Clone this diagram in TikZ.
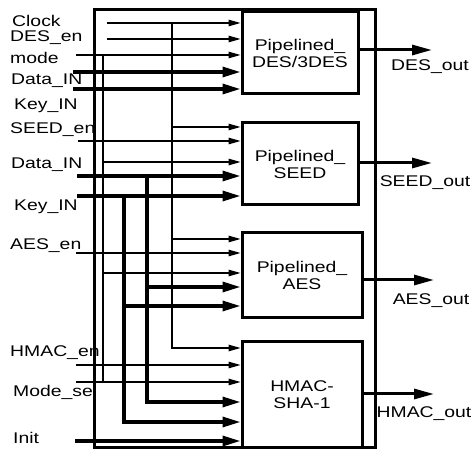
\documentclass[tikz,border=0pt]{standalone}
\usepackage{fontspec}
\usepackage{graphicx}
\setmainfont{Liberation Sans}
\usetikzlibrary{arrows.meta}
\newcommand{\sx}[1]{\scalebox{1.25}[1]{#1}}
\begin{document}
\begin{tikzpicture}[x=1pt,y=-1pt,
  thinl/.style={line width=1.2pt},
  thickl/.style={line width=3.2pt},
  ta/.style={thinl,-{Triangle[length=12pt,width=6.5pt]}},
  ka/.style={thickl,-{Triangle[length=18pt,width=10pt]}},
  oa/.style={line width=3pt,-{Triangle[length=20pt,width=10pt]}},
  lbl/.style={font=\fontsize{15.5}{17}\selectfont, inner sep=0pt, anchor=west},
  olbl/.style={font=\fontsize{15.5}{17}\selectfont, inner sep=0pt},
  blk/.style={draw, line width=3pt, inner sep=0pt, align=center,
              font=\fontsize{15.5}{17}\selectfont}]
\useasboundingbox (0,0) rectangle (472,449);

% outer frame
\draw[line width=3pt] (94,10) rectangle (375,448);

% blocks
\node[blk, minimum width=116pt, minimum height=82pt] (des) at (300,53) {\sx{Pipelined\_}\\\sx{DES/3DES}};
\node[blk, minimum width=116pt, minimum height=82pt] (seed) at (300,164) {\sx{Pipelined\_}\\\sx{SEED}};
\node[blk, minimum width=120pt, minimum height=85pt] (aes) at (302,275.5) {\sx{Pipelined\_}\\\sx{AES}};
\node[blk, minimum width=120pt, minimum height=106pt] (hmac) at (302,395) {\sx{HMAC-}\\\sx{SHA-1}};

% input labels
\node[lbl] (lclk) at (12,21) {\sx{Clock}};
\node[lbl] (ldesen) at (10,38) {\sx{DES\_en}};
\node[lbl] (lmode) at (10,58) {\sx{mode}};
\node[lbl] (ldata1) at (11,81) {\sx{Data\_IN}};
\node[lbl] (lkey1) at (14,106) {\sx{Key\_IN}};
\node[lbl] (lseeden) at (10,130) {\sx{SEED\_en}};
\node[lbl] (ldata2) at (11,165) {\sx{Data\_IN}};
\node[lbl] (lkey2) at (14,207) {\sx{Key\_IN}};
\node[lbl] (laesen) at (10,246) {\sx{AES\_en}};
\node[lbl] (lhmacen) at (10,353) {\sx{HMAC\_en}};
\node[lbl] (lmodesel) at (13,392) {\sx{Mode\_sel}};
\node[lbl] (linit) at (13,438) {\sx{Init}};

% output labels
\node[olbl] (ldesout) at (430,67) {\sx{DES\_out}};
\node[olbl] (lseedout) at (425,183) {\sx{SEED\_out}};
\node[olbl] (laesout) at (431,301) {\sx{AES\_out}};
\node[olbl] (lhmacout) at (424,414) {\sx{HMAC\_out}};

% input start points
\coordinate (sclk) at (107,23);
\coordinate (sdesen) at (107,39);
\coordinate (smode) at (76,55);
\coordinate (sdata1) at (73,72);
\coordinate (skey1) at (73,89);
\coordinate (sseeden) at (78,141);
\coordinate (sdata2) at (77,176);
\coordinate (skey2) at (77,196);
\coordinate (saesen) at (76,253);
\coordinate (shmacen) at (76,365);
\coordinate (smodesel) at (76,382);
\coordinate (sinit) at (75,441);

% bus points
\coordinate (clkbus) at (172,23);
\coordinate (modebus) at (103,55);
\coordinate (databus) at (147,176);
\coordinate (keybus) at (124,196);

% DES inputs
\draw[ta] (sclk) -- (des.west |- sclk);
\draw[ta] (sdesen) -- (des.west |- sdesen);
\draw[ta] (smode) -- (des.west |- smode);
\draw[ka] (sdata1) -- (des.west |- sdata1);
\draw[ka] (skey1) -- (des.west |- skey1);

% clock bus
\draw[thinl] (clkbus) -- (172,127);
\draw[ta] (172,127) -- (seed.west |- 0,127);
\draw[thinl] (172,127) -- (172,239);
\draw[ta] (172,239) -- (aes.west |- 0,239);
\draw[ta] (172,239) |- (hmac.west |- 0,348);

% mode bus
\draw[thinl] (modebus) -- (103,162);
\draw[ta] (103,162) -- (seed.west |- 0,162);
\draw[thinl] (103,162) -- (103,273);
\draw[ta] (103,273) -- (aes.west |- 0,273);
\draw[thinl] (103,273) -- (103,382);

% SEED inputs
\draw[ta] (sseeden) -- (seed.west |- sseeden);
\draw[ka] (sdata2) -- (seed.west |- sdata2);
\draw[ka] (skey2) -- (seed.west |- skey2);

% data bus
\draw[thickl] (databus) -- (147,287);
\draw[ka] (147,287) -- (aes.west |- 0,287);
\draw[ka] (147,287) |- (hmac.west |- 0,402);

% key bus
\draw[thickl] (keybus) -- (124,306);
\draw[ka] (124,306) -- (aes.west |- 0,306);
\draw[ka] (124,306) |- (hmac.west |- 0,422);

% AES input
\draw[ta] (saesen) -- (aes.west |- saesen);

% HMAC inputs
\draw[ta] (shmacen) -- (hmac.west |- shmacen);
\draw[ta] (smodesel) -- (hmac.west |- smodesel);
\draw[ka] (sinit) -- (hmac.west |- sinit);

% outputs
\draw[oa] (des.east |- 0,50) -- (432,50);
\draw[oa] (seed.east |- 0,163) -- (432,163);
\draw[oa] (aes.east |- 0,280) -- (434,280);
\draw[oa] (hmac.east |- 0,394) -- (434,394);
\end{tikzpicture}
\end{document}
